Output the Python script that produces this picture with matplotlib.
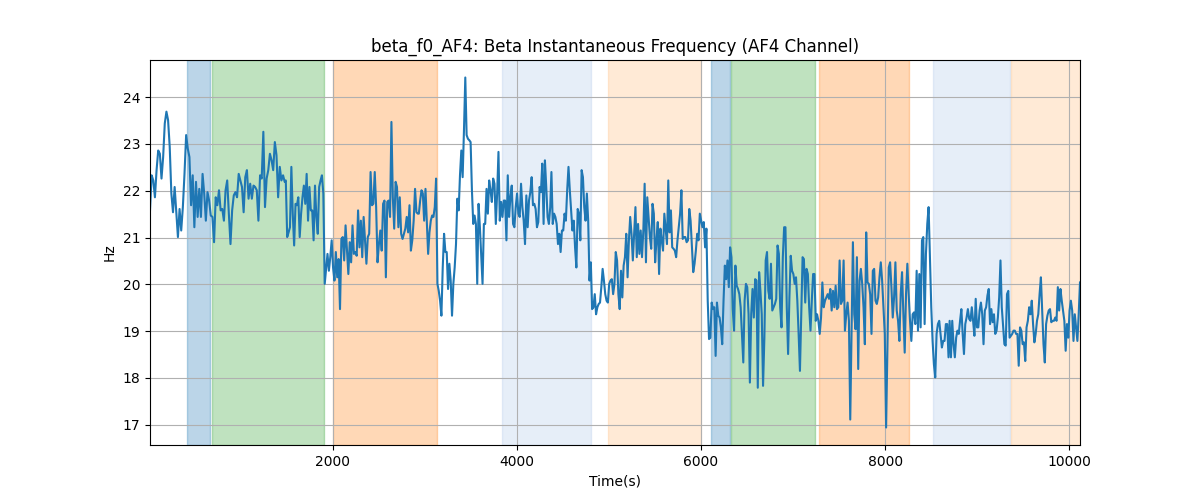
import numpy as np
import matplotlib
matplotlib.use("Agg")
import matplotlib.pyplot as plt

# ---- data ----
seg1_range = (15, 1478)
seg1 = [21.58, 22.33, 22.22, 21.86, 22.44, 22.86, 22.79, 22.26, 22.72, 23.44, 23.69, 23.51, 22.94,
        21.94, 21.54, 22.08, 21.54, 21.01, 21.61, 21.15, 21.65, 22.36, 23.19, 22.90, 22.72, 21.69,
        22.33, 21.22, 22.19, 21.44, 22.04, 21.44, 22.36, 21.94, 21.36, 21.97, 21.79, 21.47, 21.44,
        20.90, 21.86, 21.69, 22.01, 21.58, 21.61, 21.36, 22.01, 22.22, 21.51, 20.86, 21.58, 21.90,
        21.97, 21.86, 22.36, 22.22, 22.08, 21.54, 22.29, 22.44, 21.83, 22.15, 21.83, 22.11, 22.08,
        22.01, 21.36, 22.33, 22.26, 23.26, 21.65, 22.26, 22.44, 22.79, 22.65, 22.44, 23.04, 22.76,
        21.86, 22.51, 22.22, 22.33, 22.19]

seg2_range = (1490, 2924)
seg2 = [22.22, 21.01, 21.11, 21.22, 22.51, 21.51, 20.83, 21.72, 21.69, 21.86, 21.01, 21.51, 21.86,
        22.11, 21.72, 22.36, 21.36, 22.08, 21.58, 21.58, 20.94, 22.11, 21.44, 21.08, 22.08, 22.22,
        22.33, 21.94, 20.01, 20.33, 20.65, 20.29, 20.58, 20.94, 20.36, 20.08, 20.69, 20.15, 20.54,
        19.47, 20.97, 21.01, 20.51, 21.26, 20.72, 20.22, 20.90, 20.47, 21.26, 20.65, 20.69, 20.61,
        21.58, 20.79, 21.36, 20.58, 21.44, 20.94, 20.44, 21.01, 21.08, 22.40, 21.69, 21.72, 22.40,
        21.65, 20.47, 20.86, 21.15, 20.72, 21.72, 21.79, 20.15, 21.76, 21.79, 21.44, 23.47, 21.86,
        21.19, 22.19, 22.08, 21.22, 21.86, 21.08, 20.97, 21.08, 21.19, 21.44, 21.11, 21.69, 20.72,
        20.94, 21.36, 22.04, 21.54, 21.51]

seg3_range = (2935, 4362)
seg3 = [21.51, 21.79, 22.01, 21.94, 21.36, 22.04, 21.36, 20.65, 21.11, 21.36, 21.47, 21.44, 21.65,
        22.26, 20.01, 19.86, 19.65, 19.33, 20.36, 21.08, 20.69, 20.69, 19.90, 20.44, 20.08, 19.33,
        20.01, 20.36, 20.86, 21.83, 21.58, 22.33, 22.86, 22.29, 23.29, 24.42, 23.19, 23.11, 23.08,
        23.04, 22.01, 21.29, 21.47, 21.29, 20.01, 21.72, 21.22, 20.61, 20.01, 21.29, 21.29, 22.04,
        21.51, 22.22, 22.01, 21.76, 22.26, 22.15, 21.29, 21.94, 22.83, 21.36, 21.76, 21.44, 21.79,
        21.79, 20.94, 22.33, 21.44, 21.86, 22.11, 21.29, 21.22, 21.65, 21.94, 21.51, 21.44, 22.15,
        21.65, 21.36, 20.86, 21.90, 21.22, 21.79, 21.97, 22.29, 21.69, 21.72, 21.61, 21.22, 21.33,
        22.08, 21.97, 22.58, 21.29, 22.65, 22.08, 21.44, 21.29, 21.65]

seg4_range = (4375, 5801)
seg4 = [22.40, 21.29, 21.51, 21.44, 21.29, 20.86, 21.08, 20.69, 21.15, 21.15, 21.51, 21.36, 22.01,
        22.51, 22.01, 21.58, 21.15, 21.36, 20.79, 20.36, 21.61, 21.51, 20.94, 22.44, 22.29, 21.65,
        21.36, 21.94, 21.36, 20.08, 20.47, 19.47, 19.51, 19.79, 19.36, 19.51, 19.58, 19.61, 19.94,
        20.33, 20.08, 19.79, 19.65, 19.61, 20.01, 20.08, 20.11, 19.79, 20.01, 20.69, 20.51, 19.79,
        19.47, 20.29, 19.72, 20.40, 20.58, 21.08, 20.15, 20.94, 21.44, 21.08, 20.51, 21.08, 21.65,
        20.58, 21.29, 20.65, 21.15, 20.58, 21.15, 22.15, 20.47, 21.86, 21.44, 21.01, 20.76, 21.72,
        21.51, 20.47, 20.94, 21.33, 20.22, 21.19, 20.94, 20.72, 21.51, 21.19, 20.86, 22.22, 21.11,
        21.58, 20.79, 20.76, 20.72, 20.58, 20.94, 21.22, 21.51, 22.01, 20.97]

seg5_range = (5815, 7246)
seg5 = [21.01, 21.01, 20.90, 20.94, 21.61, 21.36, 20.79, 20.26, 20.44, 20.72, 21.08, 20.94, 21.51,
        21.36, 21.22, 21.33, 20.79, 21.19, 19.65, 18.83, 18.86, 19.61, 19.47, 19.51, 18.47, 19.61,
        19.33, 19.29, 19.08, 18.72, 19.65, 20.40, 20.11, 20.51, 19.94, 20.79, 20.58, 19.47, 19.01,
        20.40, 19.97, 19.90, 19.79, 19.51, 18.94, 18.33, 19.65, 20.01, 19.94, 19.36, 17.90, 19.36,
        19.90, 19.29, 20.11, 20.08, 17.79, 20.26, 19.86, 19.36, 17.83, 18.86, 20.51, 20.69, 19.86,
        19.69, 20.44, 19.44, 19.51, 19.58, 19.69, 20.83, 20.65, 19.51, 19.08, 20.58, 21.22, 21.22,
        19.51, 18.51, 19.72, 20.61, 20.29, 20.22, 20.01, 20.15, 19.65, 18.94, 18.15, 19.36, 20.58,
        20.54, 19.61, 20.33, 20.22, 19.51, 19.01, 19.65, 20.22, 20.22, 19.22]

seg6_range = (7260, 8688)
seg6 = [19.36, 19.22, 18.94, 19.29, 20.04, 19.51, 19.65, 19.72, 19.79, 19.69, 19.90, 19.44, 19.86,
        19.51, 19.97, 19.47, 19.51, 20.51, 19.58, 19.65, 20.51, 19.01, 19.36, 19.61, 19.22, 17.11,
        19.01, 20.90, 19.36, 19.04, 20.58, 18.19, 20.08, 20.33, 20.01, 19.51, 18.72, 21.11, 20.04,
        20.01, 19.79, 18.94, 20.29, 20.33, 19.65, 19.58, 19.72, 20.15, 20.47, 20.08, 19.51, 18.94,
        16.94, 18.65, 20.36, 20.47, 19.94, 19.29, 19.72, 20.47, 19.44, 19.22, 18.79, 19.79, 20.26,
        19.36, 18.54, 19.79, 20.44, 19.79, 19.22, 18.79, 19.36, 19.40, 19.15, 20.29, 19.01, 20.22,
        19.08, 20.94, 21.01, 19.15, 20.65, 21.29, 21.65, 20.58, 19.51, 18.79, 18.29, 18.01, 18.94,
        19.15, 19.22, 18.94, 18.65, 18.79, 18.79, 19.15, 19.15, 18.44]

seg7_range = (8700, 10116)
seg7 = [19.22, 18.44, 19.22, 18.72, 18.44, 18.86, 19.01, 18.94, 19.22, 19.47, 18.94, 18.51, 19.15,
        19.29, 19.47, 19.26, 19.22, 19.51, 19.22, 18.90, 19.69, 19.08, 19.08, 19.44, 19.61, 19.36,
        18.72, 19.44, 19.51, 19.76, 19.90, 19.15, 19.47, 19.19, 19.36, 18.94, 19.01, 19.29, 19.72,
        20.51, 19.51, 19.11, 18.72, 18.69, 19.79, 19.86, 18.86, 18.90, 18.94, 19.01, 19.01, 18.94,
        18.94, 18.26, 19.08, 19.01, 18.72, 18.76, 18.36, 19.08, 19.22, 19.51, 19.36, 19.65, 19.15,
        18.76, 18.94, 19.22, 19.36, 19.79, 20.15, 19.44, 18.72, 18.33, 19.15, 19.33, 19.44, 19.47,
        19.19, 19.22, 19.22, 19.29, 19.22, 19.94, 19.44, 19.90, 19.65, 19.44, 19.22, 18.58, 19.15,
        18.86, 19.44, 19.65, 19.44, 18.79, 19.36, 19.08, 18.79, 19.36, 20.04]

segments = [(seg1_range, seg1), (seg2_range, seg2), (seg3_range, seg3), (seg4_range, seg4),
            (seg5_range, seg5), (seg6_range, seg6), (seg7_range, seg7)]

# shaded intervals: (start, end, colour)
span_starts = [413, 683, 2000, 3840, 4990, 6105, 6323, 7280, 8518, 9366]
span_ends = [667, 1900, 3127, 4810, 6003, 6312, 7236, 8258, 9351, 10116]
span_colors = ['#1f77b4', '#2ca02c', '#ff7f0e', '#aec7e8', '#ffbb78',
               '#1f77b4', '#2ca02c', '#ff7f0e', '#aec7e8', '#ffbb78']

t = np.concatenate([np.linspace(r[0], r[1], len(v)) for r, v in segments])
f0 = np.concatenate([np.array(v) for r, v in segments])

fig, ax = plt.subplots(figsize=(12, 5), dpi=100)
for s, e, c in zip(span_starts, span_ends, span_colors):
    ax.axvspan(s, e, color=c, alpha=0.3)
ax.plot(t, f0, color='#1f77b4', linewidth=1.5)
ax.set_xlim(t[0], t[-1])
ax.grid(True)
ax.set_title("beta_f0_AF4: Beta Instantaneous Frequency (AF4 Channel)")
ax.set_xlabel("Time(s)")
ax.set_ylabel("Hz")
fig.savefig("out.png")
